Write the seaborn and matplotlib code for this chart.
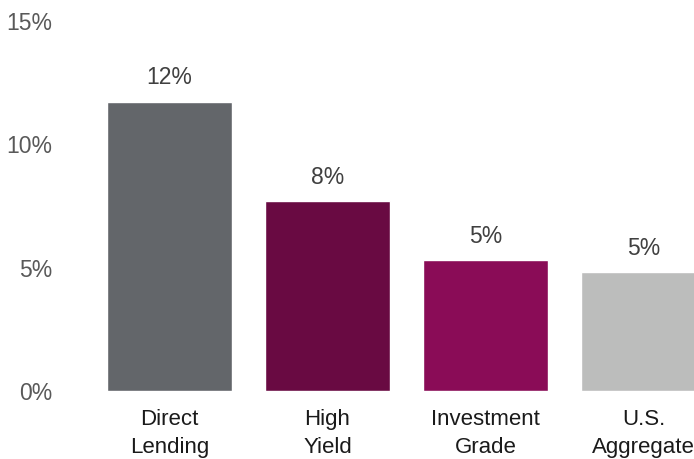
import matplotlib
matplotlib.use("Agg")
import matplotlib.pyplot as plt
import seaborn as sns
import pandas as pd

categories = ["Direct\nLending", "High\nYield", "Investment\nGrade", "U.S.\nAggregate"]
values = [11.73, 7.70, 5.31, 4.82]
value_labels = ["12%", "8%", "5%", "5%"]
colors = ["#63666A", "#690A42", "#8A0C57", "#BCBDBC"]
yticks = [0, 5, 10, 15]
ytick_labels = ["0%", "5%", "10%", "15%"]

sns.set_theme(style="white")
plt.rcParams['font.family'] = ['Liberation Sans', 'DejaVu Sans']

df = pd.DataFrame({"cat": categories, "val": values})

fig = plt.figure(figsize=(6.94, 4.59), dpi=100)
ax = fig.add_axes([58/694, 68/459, 636/694, 370/459])
sns.barplot(data=df, x="cat", y="val", hue="cat", palette=colors, legend=False,
            width=0.79, saturation=1, ax=ax)

ax.set_ylim(0, 15)
ax.set_xlim((58-169.5)/158, (694-169.5)/158)
ax.set_yticks(yticks)
ax.set_yticklabels(ytick_labels)
ax.set_xlabel("")
ax.set_ylabel("")
for s in ax.spines.values():
    s.set_visible(False)
ax.tick_params(axis="y", length=0, pad=4, labelsize=16.5, labelcolor="#595959")
ax.tick_params(axis="x", length=0, pad=13, labelsize=16, labelcolor="#1a1a1a")
for lbl in ax.get_xticklabels():
    lbl.set_linespacing(1.45)

for i, (v, t) in enumerate(zip(values, value_labels)):
    ax.annotate(t, (i, v), xytext=(0, 9), textcoords="offset points",
                ha="center", va="bottom", fontsize=16.5, color="#404040",
                annotation_clip=False)

fig.savefig("out.png", dpi=100)
